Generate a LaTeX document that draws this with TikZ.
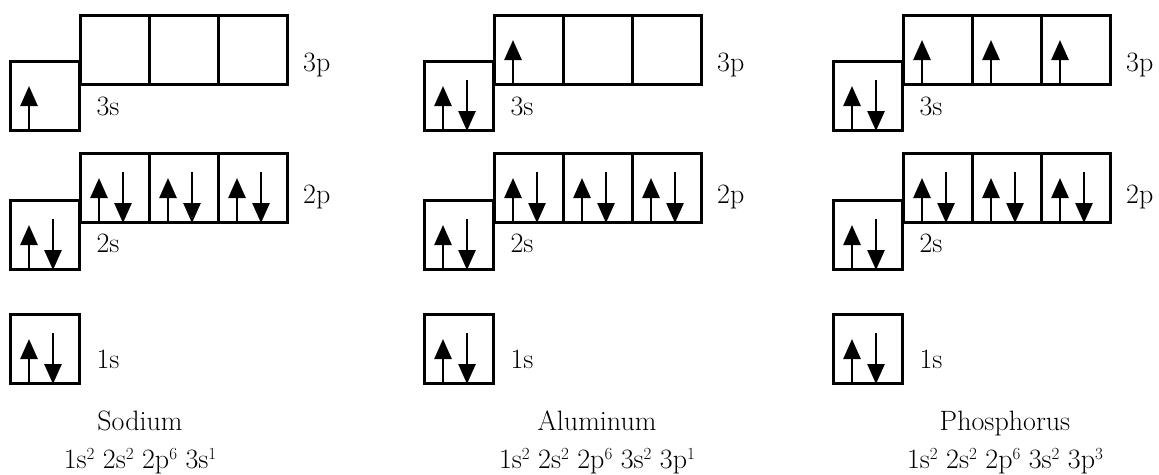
\documentclass[tikz,border=0pt]{standalone}
\usepackage{fontspec}
\usetikzlibrary{positioning,arrows.meta,calc}

% electrons drawn in an orbital box
\newcommand{\upin}[1]{\draw[spin] ($(#1.south west)+(20,0)$) -- ++(0,-46);}
\newcommand{\pairin}[1]{\upin{#1}\draw[spin] ($(#1.north west)+(44,20)$) -- ($(#1.south west)+(44,-1)$);}
\newcommand{\ex}[1]{\raisebox{9pt}{\fontsize{17}{17}\selectfont #1}}

\begin{document}
\begin{tikzpicture}[x=1pt,y=-1pt]
\tikzset{orb/.style={draw,line width=3pt,minimum size=69pt,inner sep=0pt,anchor=north west},
  lbl/.style={font=\fontsize{28}{32}\selectfont,inner sep=0pt,anchor=base},
  spin/.style={line width=2.6pt,-{Triangle[width=17pt,length=20pt]}}}
\useasboundingbox (0,0) rectangle (1159,474);

% one column per element: left edge, name, caption centre, electrons in 3s and 3p
\foreach \X/\elem/\cx/\ns/\np/\cfg in {
    9/Sodium/140/1/0/{1s\ex{2} 2s\ex{2} 2p\ex{6} 3s\ex{1}},
    423/Aluminum/597/2/1/{1s\ex{2} 2s\ex{2} 2p\ex{6} 3s\ex{2} 3p\ex{1}},
    832/Phosphorus/1005/2/3/{1s\ex{2} 2s\ex{2} 2p\ex{6} 3s\ex{2} 3p\ex{3}}}{
  \node[orb] (\elem-1s) at (\X,313) {};
  \node[orb] (\elem-2s) at (\X,199) {};
  \node[orb] (\elem-3s) at (\X,60) {};
  \foreach \k in {1,2,3}{
    \node[orb] (\elem-2p\k) at (\X+1+69*\k,152) {};
    \node[orb] (\elem-3p\k) at (\X+1+69*\k,14) {};
    \pairin{\elem-2p\k}
    \ifnum\k>\np\else\upin{\elem-3p\k}\fi
  }
  \pairin{\elem-1s}
  \pairin{\elem-2s}
  \ifnum\ns=2 \pairin{\elem-3s}\else\upin{\elem-3s}\fi

  % subshell labels
  \node[lbl] (\elem-l3s) at (\X+99,115) {3s};
  \node[lbl] (\elem-l2s) at (\X+99,252) {2s};
  \node[lbl] (\elem-l1s) at (\X+99,368) {1s};
  \node[lbl,anchor=base west] (\elem-l3p) at (\X+294,71) {3p};
  \node[lbl,anchor=base west] (\elem-l2p) at (\X+294,203) {2p};

  % caption
  \node[lbl] (\elem-name) at (\cx,430) {\elem};
  \node[lbl] (\elem-cfg) at (\cx,468) {\cfg};
}
\end{tikzpicture}
\end{document}
